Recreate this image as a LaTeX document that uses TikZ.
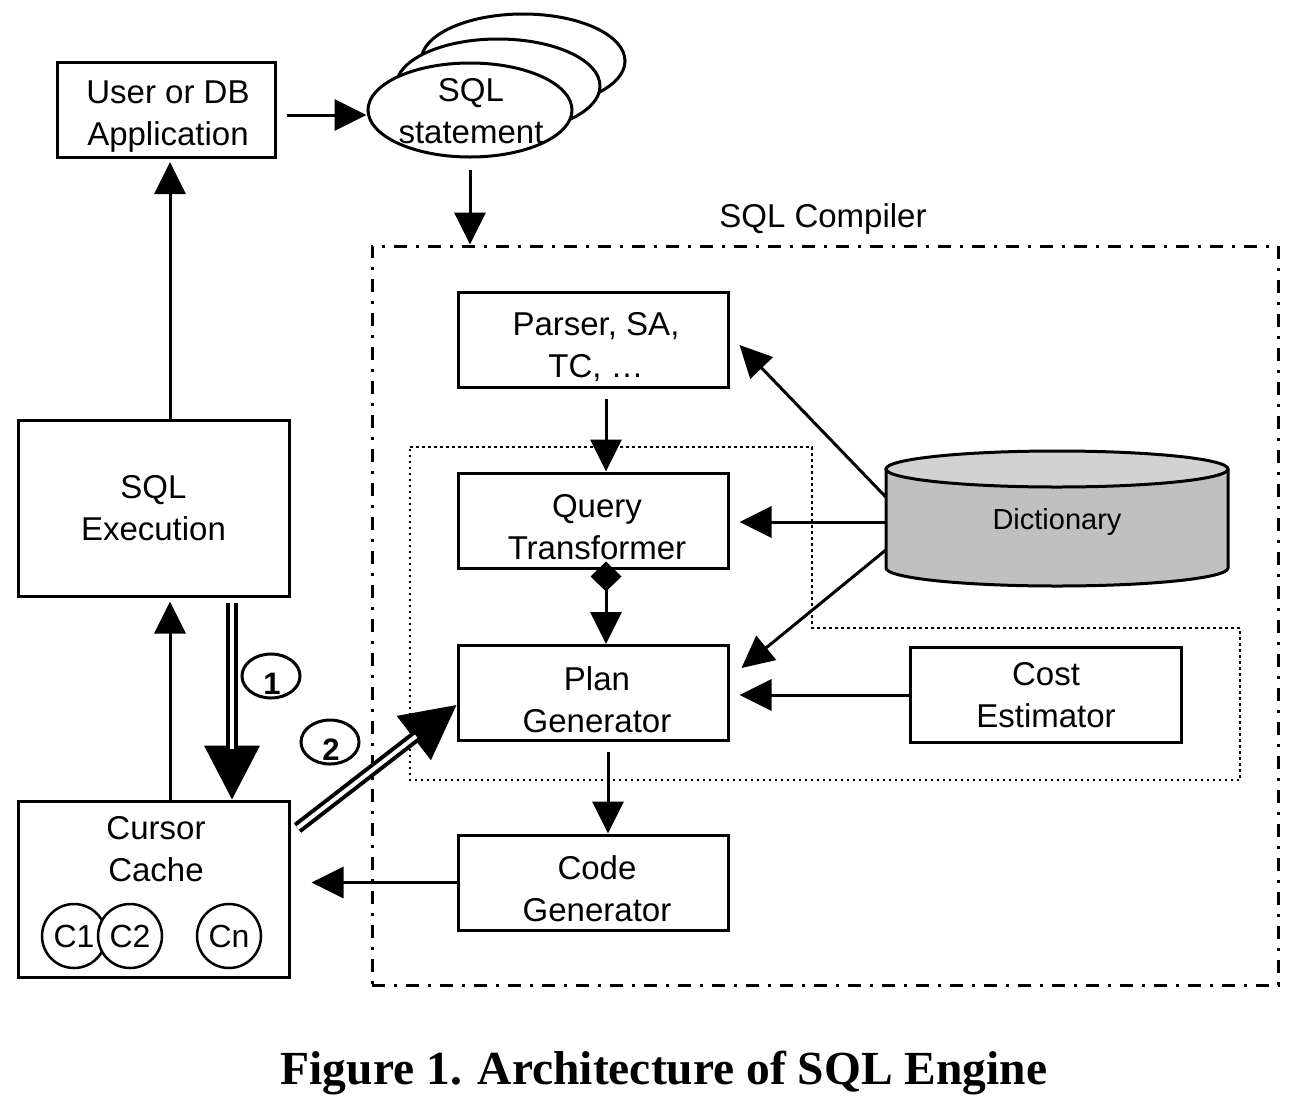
\documentclass[tikz,border=0pt]{standalone}
\usepackage{fontspec}
\setmainfont{Liberation Sans}
\newfontfamily\titlefont{Liberation Serif}
\usetikzlibrary{shapes.geometric,arrows.meta}
\definecolor{cylbody}{HTML}{C0C0C0}
\definecolor{cyltop}{HTML}{D2D2D2}
\begin{document}
\begin{tikzpicture}[x=1pt,y=-1pt]
\useasboundingbox (0,0) rectangle (1302,1104);
\tikzset{
  box/.style={draw, line width=3pt, minimum width=270pt, minimum height=95pt, inner sep=0pt, align=center, font=\fontsize{33}{42}\selectfont},
  txt/.style={align=center, inner sep=0pt, font=\fontsize{33}{42}\selectfont},
  arr/.style={line width=3pt, -{Triangle[length=32pt,width=31pt]}},
  bigarr/.style={line width=4pt, -{Triangle[length=54pt,width=55pt]}},
  dbl/.style={line width=4pt, double distance=4pt, double=white, shorten >=51pt},
  sqlell/.style={draw, fill=white, ellipse, line width=3pt, minimum width=204pt, minimum height=94pt, inner sep=0pt},
  cur/.style={draw, fill=white, circle, line width=2.5pt, minimum size=64pt, inner sep=0pt, font=\fontsize{32}{38}\selectfont},
  lab/.style={draw, ellipse, line width=3pt, minimum width=58pt, minimum height=44pt, inner sep=0pt},
  numtxt/.style={inner sep=0pt, font=\bfseries\fontsize{31}{32}\selectfont},
  compbox/.style={draw, line width=3pt, dash pattern=on 13pt off 9pt on 3pt off 9pt, minimum width=906pt, minimum height=739pt, inner sep=0pt},
  dotreg/.style={line width=2.5pt, dash pattern=on 2.5pt off 3.5pt}
}
% compiler frame and dotted region
\node[compbox] (comp) at (825,615.5) {};
\node[txt] (complabel) at (823,219) {SQL Compiler};
\draw[dotreg] (410,447) -- (812,447) -- (812,628) -- (1240,628) -- (1240,780) -- (410,780) -- cycle;

% user application
\node[box, minimum width=218pt] (user) at (166,110) {};
\node[txt] (usert) at (168,117) {User or DB\\Application};

% SQL statement ellipses
\node[sqlell] (sqlback) at (523,61) {};
\node[sqlell] (sqlmid) at (498,86) {};
\node[sqlell] (sql) at (470,110) {};
\node[txt] (sqltext) at (471,111) {SQL\\statement};

% compiler boxes
\node[box] (parser) at (593,340) {};
\node[txt] (parsert) at (596,347) {Parser, SA,\\TC, \char"2026};
\node[box] (query) at (593,520.5) {};
\node[txt] (queryt) at (597,527) {Query\\Transformer};
\node[box] (plan) at (593,693) {};
\node[txt] (plant) at (597,700) {Plan\\Generator};
\node[box] (code) at (593,882.5) {};
\node[txt] (codet) at (597,889) {Code\\Generator};
\node[box, minimum width=271pt] (cost) at (1046,695) {Cost\\Estimator};

% dictionary cylinder
\fill[cylbody] (886,469) -- (886,568) arc[start angle=180,end angle=360,x radius=171pt,y radius=18pt] -- (1228,469) -- cycle;
\draw[line width=3pt] (886,469) -- (886,568) arc[start angle=180,end angle=360,x radius=171pt,y radius=18pt] -- (1228,469);
\draw[line width=3pt, fill=cyltop] (1057,469) ellipse[x radius=171pt, y radius=18pt];
\node[inner sep=0pt, minimum width=342pt, minimum height=140pt, font=\fontsize{29}{34}\selectfont] (dict) at (1057,522) {Dictionary};

% execution side
\node[box, minimum width=271pt, minimum height=176pt] (exec) at (153.5,508) {SQL\\Execution};
\node[box, minimum width=271pt, minimum height=176pt] (cursor) at (153.5,889) {};
\node[txt] (cursortext) at (156,849) {Cursor\\Cache};
\node[cur] (c1) at (74,936) {C1};
\node[cur] (c2) at (130,936) {C2};
\node[cur] (cn) at (229,936) {Cn};

% labels 1 and 2
\node[lab] (l1) at (271,676) {};
\node[numtxt] (n1) at (272,684) {1};
\node[lab] (l2) at (330,742) {};
\node[numtxt] (n2) at (331,750) {2};

% helper coordinates
\coordinate (pe) at ([xshift=10pt]plan.east);
\coordinate (cce) at ([xshift=21pt]cursor.east);

% connectors
\draw[arr] ([xshift=10pt,yshift=-5pt]user.east) -- ([yshift=-5pt]sql.west);
\draw[arr] ([yshift=-11pt]sql.south) -- (sql.south |- comp.north);
\draw[arr] ([xshift=13pt,yshift=-10pt]parser.south) -- ([xshift=13pt]query.north);
\draw[line width=3pt, {Diamond[length=30pt,width=31pt]}-{Triangle[length=32pt,width=31pt]}] ([xshift=13pt,yshift=8pt]query.south) -- ([xshift=13pt]plan.north);
\draw[arr] ([xshift=15pt,yshift=-10pt]plan.south) -- ([xshift=15pt]code.north);
\draw[arr] (code.west) -- (code.west -| cce);
\draw[arr] (cost.west) -- (cost.west -| pe);
\draw[arr] ([yshift=25pt]dict.west) -- ([xshift=10pt,yshift=-5pt]parser.east);
\draw[arr] (dict.west) -- (dict.west -| pe);
\draw[arr] ([yshift=-28pt]dict.west) -- ([xshift=12pt,yshift=25pt]plan.east);
\draw[arr] ([xshift=16.5pt,yshift=-2pt]exec.north) -- ([xshift=4pt,yshift=-3pt]user.south);
\draw[arr] ([xshift=16.5pt]cursor.north) -- ([xshift=16.5pt,yshift=-4pt]exec.south);

% double arrows
\draw[bigarr] ([xshift=78.5pt,yshift=-5pt]exec.south) -- ([xshift=78.5pt]cursor.north);
\draw[dbl] ([xshift=78.5pt,yshift=-5pt]exec.south) -- ([xshift=78.5pt]cursor.north);
\draw[bigarr] ([xshift=7pt,yshift=61pt]cursor.east) -- ([yshift=-12pt]plan.west);
\draw[dbl] ([xshift=7pt,yshift=61pt]cursor.east) -- ([yshift=-12pt]plan.west);

% caption
\node[inner sep=0pt, font=\titlefont\bfseries\fontsize{47.5}{50}\selectfont] (title) at (664,1073) {Figure 1. Architecture of SQL Engine};
\end{tikzpicture}
\end{document}
